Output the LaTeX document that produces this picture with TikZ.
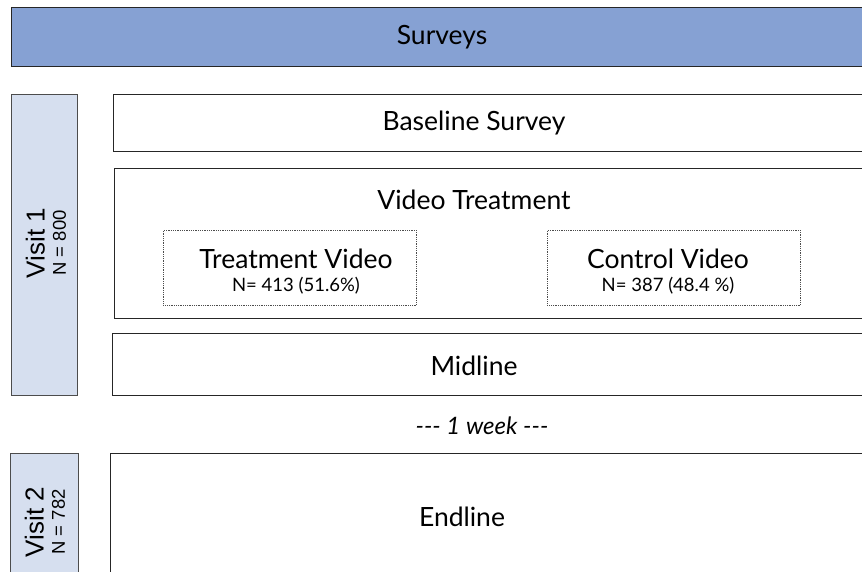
\documentclass[tikz,border=0pt]{standalone}
\usepackage{fontspec}
\setmainfont{Lato}
\newfontfamily\visitfont{Liberation Sans}
\definecolor{surveyblue}{HTML}{86A1D3}
\definecolor{visitblue}{HTML}{D6DFEF}
\tikzset{
  box/.style={draw=black!85, line width=0.9pt, fill=white, anchor=north west, inner sep=0pt},
  subbox/.style={draw=black!70, densely dotted, line width=0.8pt, anchor=north west, inner sep=0pt},
  visitbox/.style={draw=black!70, line width=0.9pt, fill=visitblue, anchor=north west, inner sep=0pt},
  title/.style={font=\fontsize{26.5}{30}\selectfont, inner sep=0pt},
  count/.style={font=\fontsize{18.5}{22}\selectfont, inner sep=0pt},
  visit/.style={rotate=90, align=center, inner sep=0pt, font=\visitfont}
}
\begin{document}
\begin{tikzpicture}[x=1pt,y=-1pt]
\clip (0,0) rectangle (862,571);
% header bar
\node[box, fill=surveyblue, minimum width=900pt, minimum height=59pt] (surveys) at (11,7) {};
\node[title] (surveyslbl) at (442,37) {Surveys};
% visit 1
\node[visitbox, minimum width=66pt, minimum height=301pt] (visitone) at (11,94) {};
\node[visit] (visitonelbl) at (46,243) {\fontsize{26}{26}\selectfont Visit 1\\[7pt]\fontsize{18.5}{18.5}\selectfont N = 800};
\node[box, minimum width=800pt, minimum height=57pt] (baseline) at (113,94) {};
\node[title] (baselinelbl) at (474,123) {Baseline Survey};
\node[box, minimum width=800pt, minimum height=150pt] (video) at (114,168) {};
\node[title] (videolbl) at (474,200) {Video Treatment};
\node[subbox, minimum width=253pt, minimum height=75pt] (treatvid) at (163,230) {};
\node[title] (treatvidlbl) at (296,259) {Treatment Video};
\node[count] (treatvidn) at (296,286) {N= 413 (51.6\%)};
\node[subbox, minimum width=253pt, minimum height=75pt] (ctrlvid) at (547,230) {};
\node[title] (ctrlvidlbl) at (668,259) {Control Video};
\node[count] (ctrlvidn) at (668,286) {N= 387 (48.4 \%)};
\node[box, minimum width=800pt, minimum height=62pt] (midline) at (112,333) {};
\node[title] (midlinelbl) at (474,366) {Midline};
% gap between visits
\node[title, font=\fontsize{24}{28}\selectfont\itshape] (week) at (482,426) {-{}-{}- 1 week -{}-{}-};
% visit 2
\node[visitbox, minimum width=68pt, minimum height=150pt] (visittwo) at (10,453) {};
\node[visit] (visittwolbl) at (45,522) {\fontsize{26}{26}\selectfont Visit 2\\[7pt]\fontsize{18.5}{18.5}\selectfont N = 782};
\node[box, minimum width=800pt, minimum height=150pt] (endline) at (110,453) {};
\node[title] (endlinelbl) at (462,517) {Endline};
\end{tikzpicture}
\end{document}
